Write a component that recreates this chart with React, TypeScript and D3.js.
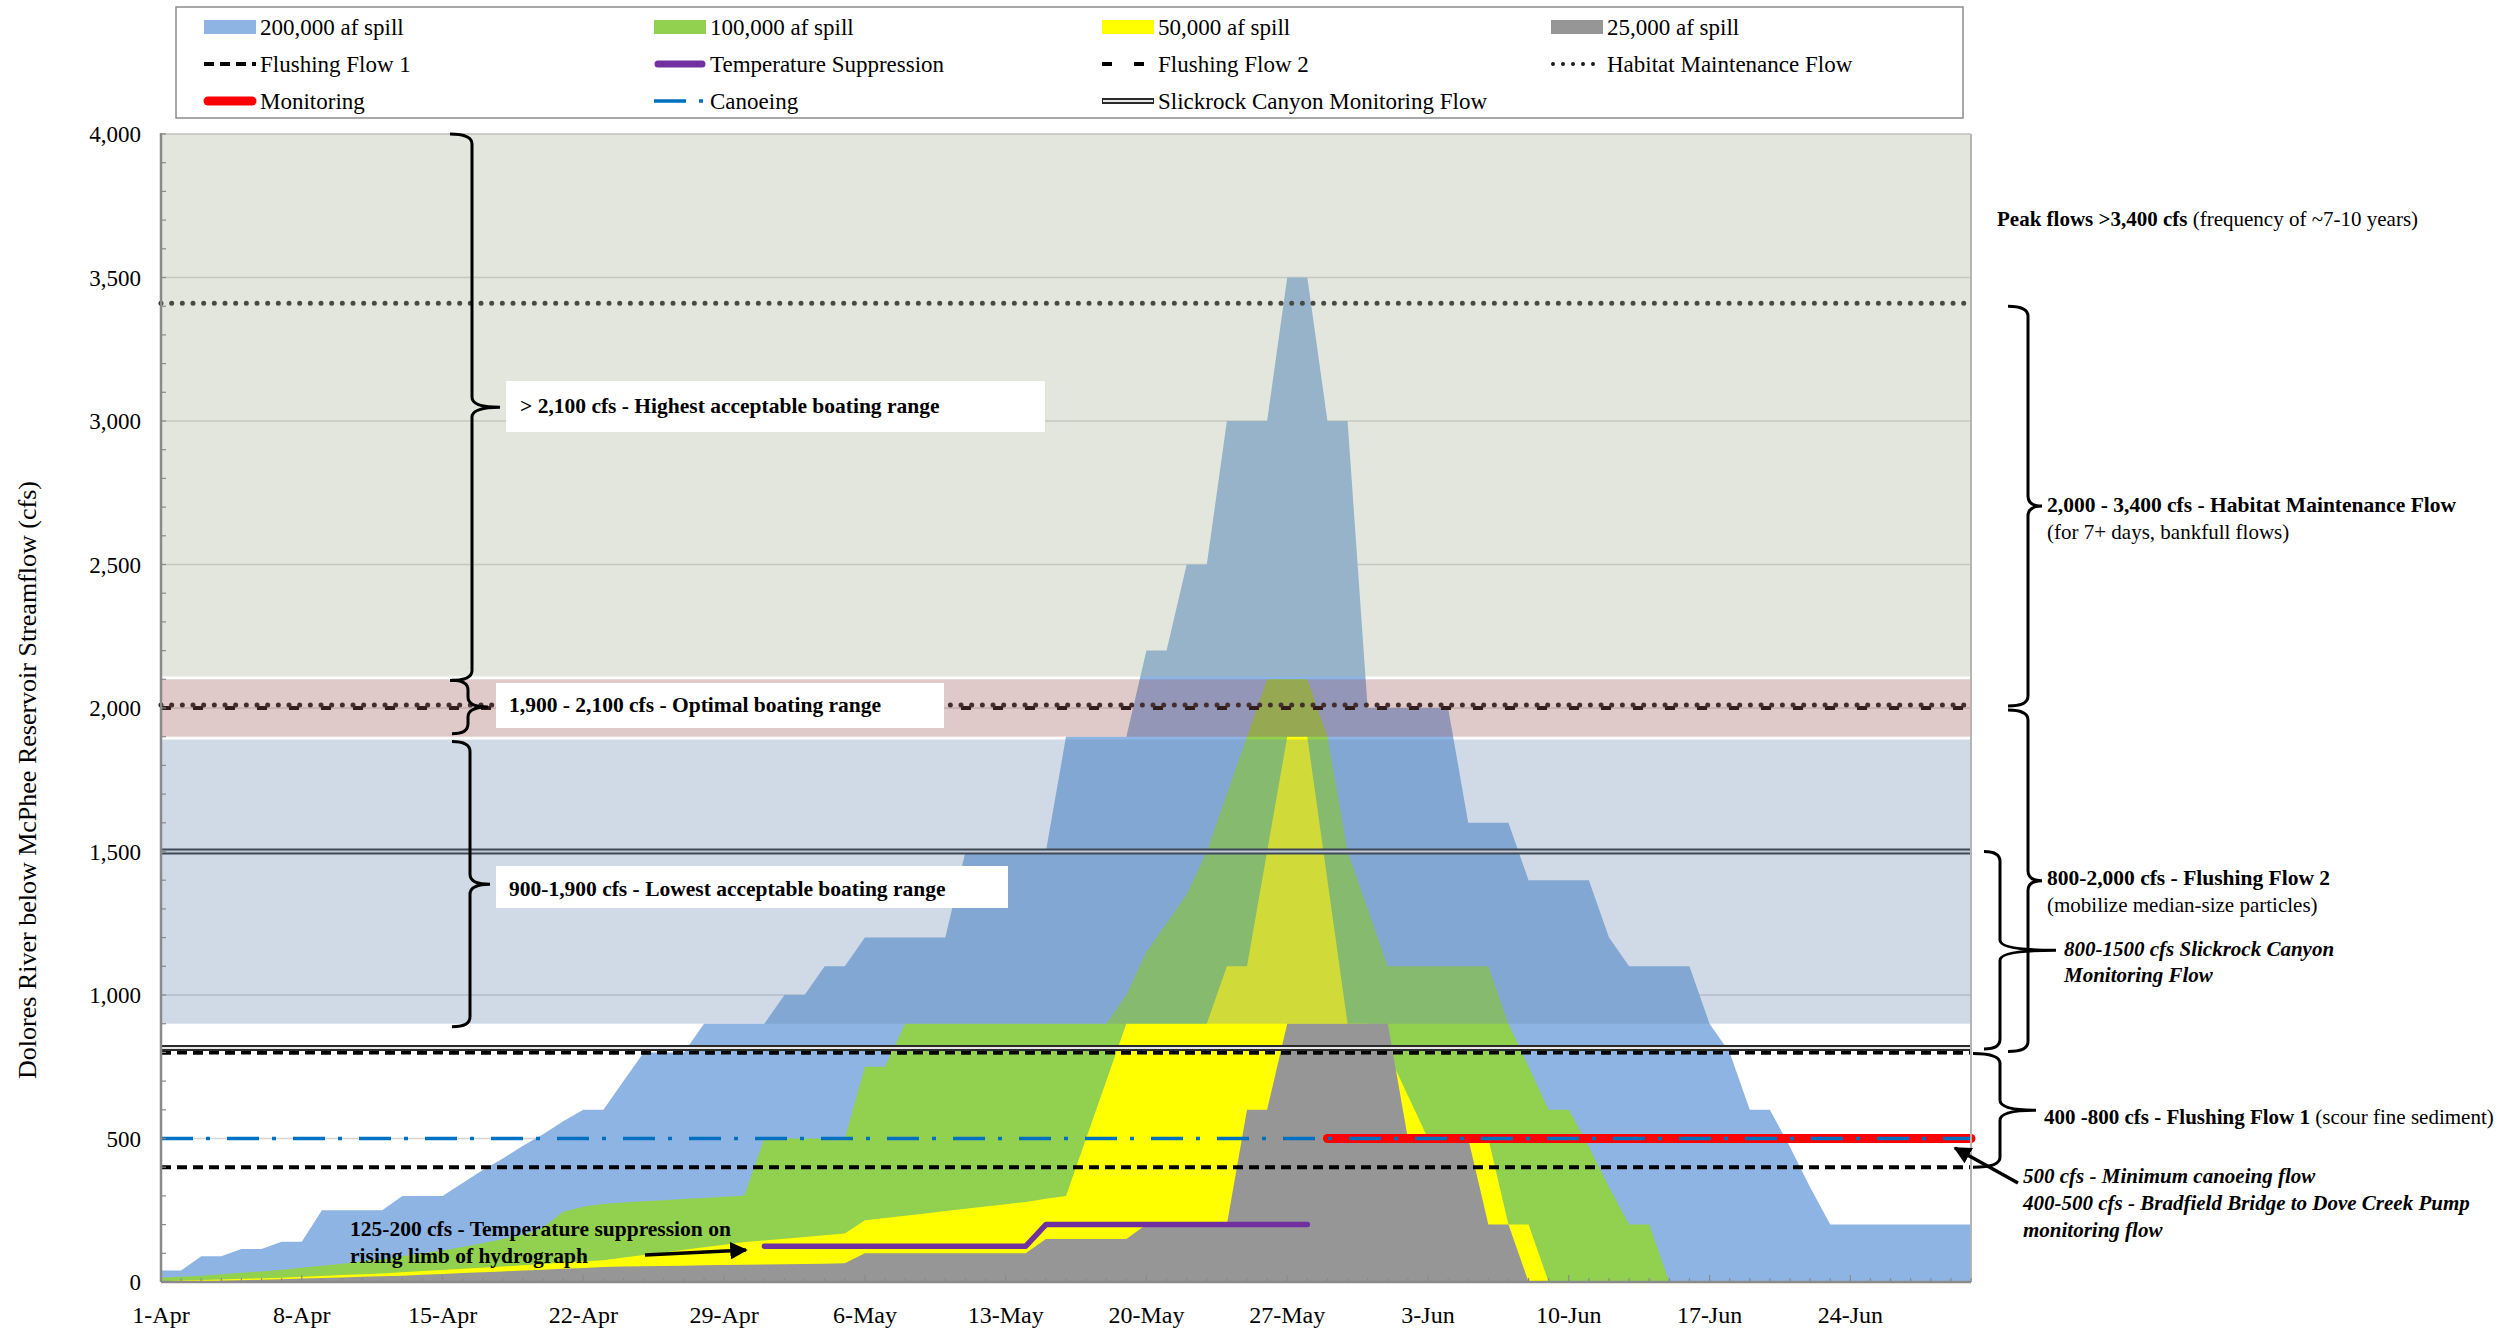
import React from "react";
import * as d3 from "d3";

// ---------------- DATA ----------------
const xTickLabels = ["1-Apr", "8-Apr", "15-Apr", "22-Apr", "29-Apr", "6-May", "13-May", "20-May", "27-May", "3-Jun", "10-Jun", "17-Jun", "24-Jun"];
const yTickValues = [0, 500, 1000, 1500, 2000, 2500, 3000, 3500, 4000];

// daily values, 1-Apr (day 0) .. 30-Jun (day 90)
const spill200k = [
  40, 40, 90, 90, 115, 115, 140, 140, 250, 250, 250, 250, 300, 300, 300, 345, 390, 430, 475, 515, 560, 600,
  600, 700, 800, 800, 800, 900, 900, 900, 900, 1000, 1000, 1100, 1100, 1200, 1200, 1200, 1200, 1200, 1500,
  1500, 1500, 1500, 1500, 1900, 1900, 1900, 1900, 2200, 2200, 2500, 2500, 3000, 3000, 3000, 3500, 3500, 3000,
  3000, 2000, 2000, 2000, 2000, 2000, 1600, 1600, 1600, 1400, 1400, 1400, 1400, 1200, 1100, 1100, 1100, 1100,
  900, 800, 600, 600, 470, 330, 200, 200, 200, 200, 200, 200, 200, 200,
];
const spill100k = [
  15, 18, 22, 27, 32, 37, 43, 50, 57, 64, 72, 80, 90, 100, 110, 122, 135, 150, 165, 190, 245, 262, 273, 277,
  281, 285, 289, 293, 297, 301, 500, 500, 500, 500, 500, 750, 750, 900, 900, 900, 900, 900, 900, 900, 900,
  900, 900, 900, 1000, 1150, 1250, 1350, 1500, 1700, 1900, 2100, 2100, 2100, 1900, 1500, 1300, 1100, 1100,
  1100, 1100, 1100, 1100, 900, 750, 600, 600, 470, 330, 200, 200, 0, 0, 0, 0, 0, 0, 0, 0, 0, 0, 0, 0, 0, 0,
  0, 0,
];
const spill50k = [
  3, 5, 7, 9, 11, 13, 15, 18, 21, 24, 27, 30, 34, 38, 42, 46, 50, 54, 58, 63, 68, 71, 76, 85, 94, 103, 112,
  121, 130, 139, 145, 151, 157, 163, 169, 215, 223, 231, 239, 247, 255, 263, 271, 279, 290, 300, 500, 700,
  900, 900, 900, 900, 900, 1100, 1100, 1500, 1900, 1900, 1400, 900, 900, 800, 650, 500, 500, 500, 500, 200,
  200, 0, 0, 0, 0, 0, 0, 0, 0, 0, 0, 0, 0, 0, 0, 0, 0, 0, 0, 0, 0, 0, 0,
];
const spill25k = [
  0, 0, 2, 4, 6, 8, 10, 12, 14, 16, 18, 20, 22, 25, 28, 31, 34, 37, 40, 43, 46, 49, 52, 54, 55, 56, 57, 58,
  59, 60, 61, 62, 63, 64, 65, 100, 100, 100, 100, 100, 100, 100, 100, 100, 150, 150, 150, 150, 150, 200, 200,
  200, 200, 200, 600, 600, 900, 900, 900, 900, 900, 900, 500, 500, 500, 500, 200, 200, 0, 0, 0, 0, 0, 0, 0,
  0, 0, 0, 0, 0, 0, 0, 0, 0, 0, 0, 0, 0, 0, 0, 0,
];

const tempSuppressionStart = 30;
const tempSuppression = [125, 125, 125, 125, 125, 125, 125, 125, 125, 125, 125, 125, 125, 125, 200, 200, 200, 200, 200, 200, 200, 200, 200, 200, 200, 200, 200, 200];
const monitoringStart = 58;
const monitoring = [500, 500, 500, 500, 500, 500, 500, 500, 500, 500, 500, 500, 500, 500, 500, 500, 500, 500, 500, 500, 500, 500, 500, 500, 500, 500, 500, 500, 500, 500, 500, 500, 500];

const flushingFlow1 = [400, 800];
const flushingFlow2 = [800, 2000];
const habitatFlow = [2000, 3400];
const slickrockFlow = [815, 1500];
const canoeingFlow = [500];

const highBand = [2110, 4000];
const optimalBand = [1900, 2100];
const lowBand = [900, 1890];

// ---------------- STYLE ----------------
const SERIF = "'Liberation Serif', 'Times New Roman', serif";
const C_BLUE = "#8eb4e3";
const C_GREEN = "#92d050";
const C_YELLOW = "#ffff00";
const C_GRAY = "#969696";

function brace(xv: number, y1: number, y2: number, hookX: number, tipX: number) {
  const m = (y1 + y2) / 2;
  const r = Math.min(10, (y2 - y1) / 4);
  return `M${hookX},${y1} Q${xv},${y1} ${xv},${y1 + r} L${xv},${m - r} Q${xv},${m} ${tipX},${m} Q${xv},${m} ${xv},${m + r} L${xv},${y2 - r} Q${xv},${y2} ${hookX},${y2}`;
}

export default function App() {
  const X0 = 161, X1 = 1971, Y0 = 1282, Y1 = 134;
  const x = d3.scaleLinear().domain([0, 90]).range([X0, X1]);
  const y = d3.scaleLinear().domain([0, 4000]).range([Y0, Y1]);
  const areaGen = d3.area<number>().x((_, i) => x(i)).y0(y(0)).y1((d) => y(d));
  const hLine = (v: number) => d3.line()([[x(0), y(v)], [x(90), y(v)]]) as string;
  const seriesLine = (start: number, vals: number[]) =>
    d3.line<number>().x((_, i) => x(start + i)).y((d) => y(d))(vals) as string;

  const minorY = d3.range(0, 4001, 100);
  const minorX = d3.range(0, 91);

  const legendCols = [204, 654, 1102, 1551];
  const legendRows = [27, 64, 101];
  const sw = 52;

  const legendText = (col: number, row: number, t: string) => (
    <text x={legendCols[col] + sw + 4} y={legendRows[row] + 8} fontSize={23} fontFamily={SERIF}>{t}</text>
  );

  const band = (b: number[], fill: string) => (
    <rect x={X0} y={y(b[1])} width={X1 - X0} height={y(b[0]) - y(b[1])} fill={fill} />
  );

  return (
    <svg width={2509} height={1333} style={{ position: "absolute", left: 0, top: 0, display: "block", background: "#fff" }}>
      <defs>
        <marker id="arr" viewBox="0 0 10 10" refX="9" refY="5" markerWidth="5" markerHeight="5" orient="auto">
          <path d="M0,0 L10,5 L0,10 z" fill="#000" />
        </marker>
      </defs>
      <rect x={0} y={0} width={2509} height={1333} fill="#fff" />

      {/* gridlines */}
      {yTickValues.slice(1).map((v) => (
        <line key={"g" + v} x1={X0} x2={X1} y1={y(v)} y2={y(v)} stroke="#d4d4d4" strokeWidth={1.5} />
      ))}

      {/* spill areas */}
      <path d={areaGen(spill200k) as string} fill={C_BLUE} />
      <path d={areaGen(spill100k) as string} fill={C_GREEN} />
      <path d={areaGen(spill50k) as string} fill={C_YELLOW} />
      <path d={areaGen(spill25k) as string} fill={C_GRAY} />

      {/* lines */}
      <path d={seriesLine(tempSuppressionStart, tempSuppression)} fill="none" stroke="#7030a0" strokeWidth={5.5} strokeLinecap="round" strokeLinejoin="round" />
      {flushingFlow1.map((v) => (
        <path key={"ff1" + v} d={hLine(v)} stroke="#000" strokeWidth={4} strokeDasharray="10,6" fill="none" />
      ))}
      {flushingFlow2.map((v) => (
        <path key={"ff2" + v} d={hLine(v)} stroke="#000" strokeWidth={4} strokeDasharray="10,22" fill="none" />
      ))}
      {habitatFlow.map((v) => (
        <path key={"hm" + v} d={hLine(v)} stroke="#1a1a1a" strokeWidth={5} strokeDasharray="0,10.667" strokeLinecap="round" fill="none" transform="translate(0,-3)" />
      ))}
      {slickrockFlow.map((v) => (
        <g key={"sr" + v}>
          <path d={hLine(v)} stroke="#2a2a2a" strokeWidth={6} fill="none" />
          <path d={hLine(v)} stroke="#e8e8e8" strokeWidth={2} fill="none" />
        </g>
      ))}
      <path d={seriesLine(monitoringStart, monitoring)} fill="none" stroke="#ff0000" strokeWidth={9} strokeLinecap="round" />
      {canoeingFlow.map((v) => (
        <path key={"cn" + v} d={hLine(v)} stroke="#0070c0" strokeWidth={3.5} strokeDasharray="32,13,4,17" fill="none" />
      ))}

      {/* boating range bands (translucent, on top) */}
      {band(highBand, "rgba(168,177,149,0.32)")}
      {band(optimalBand, "rgba(158,86,86,0.32)")}
      {band(lowBand, "rgba(108,139,177,0.32)")}

      {/* plot frame */}
      <line x1={X1} x2={X1} y1={Y1} y2={Y0} stroke="#b5b5b5" strokeWidth={2} />
      <line x1={X0} x2={X1} y1={Y1} y2={Y1} stroke="#c8c8c8" strokeWidth={1.5} />
      <line x1={X0} x2={X0} y1={Y1 - 1} y2={Y0} stroke="#8a8a8a" strokeWidth={2.5} />
      <line x1={X0} x2={X1} y1={Y0} y2={Y0} stroke="#8a8a8a" strokeWidth={2.5} />
      {minorY.map((v) => (
        <line key={"ty" + v} x1={X0} x2={X0 + 5} y1={y(v)} y2={y(v)} stroke="#8a8a8a" strokeWidth={1.2} />
      ))}
      {minorX.map((d) => (
        <line key={"tx" + d} x1={x(d)} x2={x(d)} y1={Y0} y2={Y0 - (d % 7 === 0 ? 7 : 4)} stroke="#8a8a8a" strokeWidth={1.2} />
      ))}

      {/* axis labels */}
      {yTickValues.map((v) => (
        <text key={"yl" + v} x={141} y={y(v) + 8} textAnchor="end" fontSize={23} fontFamily={SERIF}>{d3.format(",")(v)}</text>
      ))}
      {xTickLabels.map((t, i) => (
        <text key={"xl" + t} x={x(i * 7)} y={1323} textAnchor="middle" fontSize={24} fontFamily={SERIF}>{t}</text>
      ))}
      <text transform="translate(36,780) rotate(-90)" textAnchor="middle" fontSize={26} fontFamily={SERIF}>
        Dolores River below McPhee Reservoir Streamflow  (cfs)
      </text>

      {/* left braces and boxes */}
      <g fill="none" stroke="#000" strokeWidth={3}>
        <path d={brace(472, y(4000), y(2110) + 4, 450, 500)} />
        <path d={brace(468, y(2100) + 1, y(1900) - 3, 452, 488)} />
        <path d={brace(470, y(1890) + 2, y(900) + 3, 452, 490)} />
      </g>
      <rect x={506} y={381} width={539} height={51} fill="#fff" />
      <rect x={496} y={683} width={448} height={45} fill="#fff" />
      <rect x={496} y={866} width={512} height={42} fill="#fff" />
      <g fontFamily={SERIF} fontWeight="bold" fontSize={21.5}>
        <text x={520} y={413}>&gt; 2,100 cfs - Highest acceptable boating range</text>
        <text x={509} y={712}>1,900 - 2,100 cfs - Optimal boating range</text>
        <text x={509} y={896}>900-1,900 cfs - Lowest acceptable boating range</text>
        <text x={350} y={1236}>125-200 cfs  - Temperature suppression on</text>
        <text x={350} y={1263}>rising limb of hydrograph</text>
      </g>
      <line x1={645} y1={1255} x2={746} y2={1250} stroke="#000" strokeWidth={3.5} markerEnd="url(#arr)" />

      {/* right braces */}
      <g fill="none" stroke="#000" strokeWidth={3}>
        <path d={brace(2028, y(3400), y(2000) - 2, 2008, 2042)} />
        <path d={brace(2028, y(2000) + 2, y(800) - 1, 2008, 2042)} />
        <path d={brace(2000, y(1500), y(815) + 1, 1984, 2056)} />
        <path d={brace(2000, y(800) + 1, y(400), 1973, 2036)} />
      </g>
      <line x1={2018} y1={1183} x2={1955} y2={1148} stroke="#000" strokeWidth={3.5} markerEnd="url(#arr)" />
      <g fontFamily={SERIF} fontSize={21}>
        <text x={1997} y={226}><tspan fontWeight="bold">Peak flows &gt;3,400 cfs</tspan> (frequency of ~7-10 years)</text>
        <text x={2047} y={512} fontWeight="bold" fontSize={21.5}>2,000 - 3,400 cfs - Habitat Maintenance Flow</text>
        <text x={2047} y={539}>(for 7+ days, bankfull flows)</text>
        <text x={2047} y={885} fontWeight="bold" fontSize={21.5}>800-2,000 cfs - Flushing Flow 2</text>
        <text x={2047} y={912}>(mobilize median-size particles)</text>
        <text x={2064} y={956} fontWeight="bold" fontStyle="italic">800-1500 cfs Slickrock Canyon</text>
        <text x={2064} y={982} fontWeight="bold" fontStyle="italic">Monitoring Flow</text>
        <text x={2044} y={1124}><tspan fontWeight="bold">400 -800 cfs - Flushing Flow 1</tspan> (scour fine sediment)</text>
        <text x={2023} y={1183} fontWeight="bold" fontStyle="italic">500 cfs - Minimum canoeing flow</text>
        <text x={2023} y={1210} fontWeight="bold" fontStyle="italic">400-500 cfs - Bradfield Bridge to Dove Creek Pump</text>
        <text x={2023} y={1237} fontWeight="bold" fontStyle="italic">monitoring flow</text>
      </g>

      {/* legend */}
      <rect x={176} y={7} width={1787} height={111} fill="#fff" stroke="#8c8c8c" strokeWidth={1.5} />
      {[C_BLUE, C_GREEN, C_YELLOW, C_GRAY].map((c, i) => (
        <rect key={"ls" + i} x={legendCols[i]} y={legendRows[0] - 7} width={sw} height={14} fill={c} />
      ))}
      {legendText(0, 0, "200,000 af spill")}
      {legendText(1, 0, "100,000 af spill")}
      {legendText(2, 0, "50,000 af spill")}
      {legendText(3, 0, "25,000 af spill")}

      <line x1={legendCols[0]} x2={legendCols[0] + sw} y1={legendRows[1]} y2={legendRows[1]} stroke="#000" strokeWidth={4} strokeDasharray="10,6" />
      {legendText(0, 1, "Flushing Flow 1")}
      <line x1={legendCols[1] + 4} x2={legendCols[1] + sw - 4} y1={legendRows[1]} y2={legendRows[1]} stroke="#7030a0" strokeWidth={7} strokeLinecap="round" />
      {legendText(1, 1, "Temperature Suppression")}
      <line x1={legendCols[2]} x2={legendCols[2] + sw} y1={legendRows[1]} y2={legendRows[1]} stroke="#000" strokeWidth={4} strokeDasharray="10,22" />
      {legendText(2, 1, "Flushing Flow 2")}
      <line x1={legendCols[3] + 2} x2={legendCols[3] + sw} y1={legendRows[1]} y2={legendRows[1]} stroke="#1a1a1a" strokeWidth={4} strokeDasharray="0,10" strokeLinecap="round" />
      {legendText(3, 1, "Habitat Maintenance Flow")}

      <line x1={legendCols[0] + 4} x2={legendCols[0] + sw - 4} y1={legendRows[2]} y2={legendRows[2]} stroke="#ff0000" strokeWidth={9} strokeLinecap="round" />
      {legendText(0, 2, "Monitoring")}
      <line x1={legendCols[1]} x2={legendCols[1] + sw} y1={legendRows[2]} y2={legendRows[2]} stroke="#0070c0" strokeWidth={3.5} strokeDasharray="32,13,4,17" />
      {legendText(1, 2, "Canoeing")}
      <line x1={legendCols[2]} x2={legendCols[2] + sw} y1={legendRows[2]} y2={legendRows[2]} stroke="#2a2a2a" strokeWidth={6} />
      <line x1={legendCols[2] + 1} x2={legendCols[2] + sw - 1} y1={legendRows[2]} y2={legendRows[2]} stroke="#e8e8e8" strokeWidth={2} />
      {legendText(2, 2, "Slickrock Canyon Monitoring Flow")}
    </svg>
  );
}
